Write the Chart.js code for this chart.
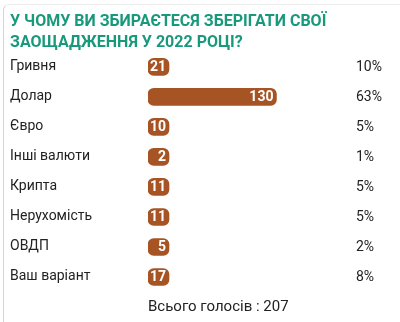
<!DOCTYPE html>
<html>
<head>
<meta charset="utf-8">
<script src="https://cdn.jsdelivr.net/npm/chart.js@4"></script>
<style>
  html, body { margin: 0; padding: 0; background: #fff; }
  #wrap { position: relative; width: 400px; height: 322px; overflow: hidden; }
  #card { position: absolute; left: 3px; top: 4px; width: 420px; height: 340px;
          border-left: 1px solid #d4d4d4; border-top: 1px solid #ececec; border-top-left-radius: 6px; }
  canvas { position: absolute; left: 0; top: 0; }
</style>
</head>
<body>
<div id="wrap">
  <div id="card"></div>
  <canvas id="grafica" width="400" height="322"></canvas>
</div>
<script>
const titulo = ["У ЧОМУ ВИ ЗБИРАЄТЕСЯ ЗБЕРІГАТИ СВОЇ", "ЗАОЩАДЖЕННЯ У 2022 РОЦІ?"];
const categorias = ["Гривня", "Долар", "Євро", "Інші валюти", "Крипта", "Нерухомість", "ОВДП", "Ваш варіант"];
const votos = [21, 130, 10, 2, 11, 11, 5, 17];
const porcentajes = [10, 63, 5, 1, 5, 5, 2, 8];
const totalVotos = 207;

const colorBarra = "#a65424";
const colorTexto = "#222222";
const colorTitulo = "#19997c";

// numeros dentro de la barra, porcentajes a la derecha y total abajo
const etiquetas = {
    id: "etiquetas",
    afterDatasetsDraw(chart) {
        const ctx = chart.ctx;
        const meta = chart.getDatasetMeta(0);
        ctx.save();
        ctx.textBaseline = "middle";
        meta.data.forEach((barra, i) => {
            ctx.font = "bold 14px Roboto";
            ctx.fillStyle = "#ffffff";
            ctx.textAlign = "right";
            ctx.fillText(String(votos[i]), barra.x - 3, barra.y + 0.5);

            ctx.font = "14px Roboto";
            ctx.fillStyle = colorTexto;
            ctx.textAlign = "left";
            ctx.fillText(porcentajes[i] + "%", 356, barra.y + 0.5);
        });
        ctx.font = "15px Roboto";
        ctx.fillStyle = colorTexto;
        ctx.textAlign = "left";
        ctx.fillText("Всього голосів : " + totalVotos, chart.chartArea.left, 307);
        ctx.restore();
    }
};

const grafica = new Chart(
    "grafica",
    {
        type: "bar",
        data: {
            labels: categorias,
            datasets: [
                {
                    data: votos,
                    backgroundColor: colorBarra,
                    barThickness: 17,
                    borderRadius: 6,
                    borderSkipped: false,
                    minBarLength: 21
                }
            ]
        },
        plugins: [etiquetas],
        options: {
            indexAxis: "y",
            responsive: false,
            animation: false,
            layout: {
                padding: {left: 10, right: 5, top: 0, bottom: 30}
            },
            scales: {
                x: {
                    display: false,
                    min: 0,
                    max: 250
                },
                y: {
                    grid: {display: false},
                    border: {display: false},
                    afterFit: (scale) => { scale.width = 138; },
                    ticks: {
                        crossAlign: "far",
                        padding: 0,
                        color: colorTexto,
                        font: {family: "Roboto", size: 14}
                    }
                }
            },
            plugins: {
                legend: {display: false},
                tooltip: {enabled: false},
                title: {
                    display: true,
                    text: titulo,
                    align: "start",
                    color: colorTitulo,
                    font: {family: "Roboto", size: 16, weight: "bold", lineHeight: 1.34},
                    padding: {top: 11, bottom: -2}
                }
            }
        }
    }
);
</script>
</body>
</html>
